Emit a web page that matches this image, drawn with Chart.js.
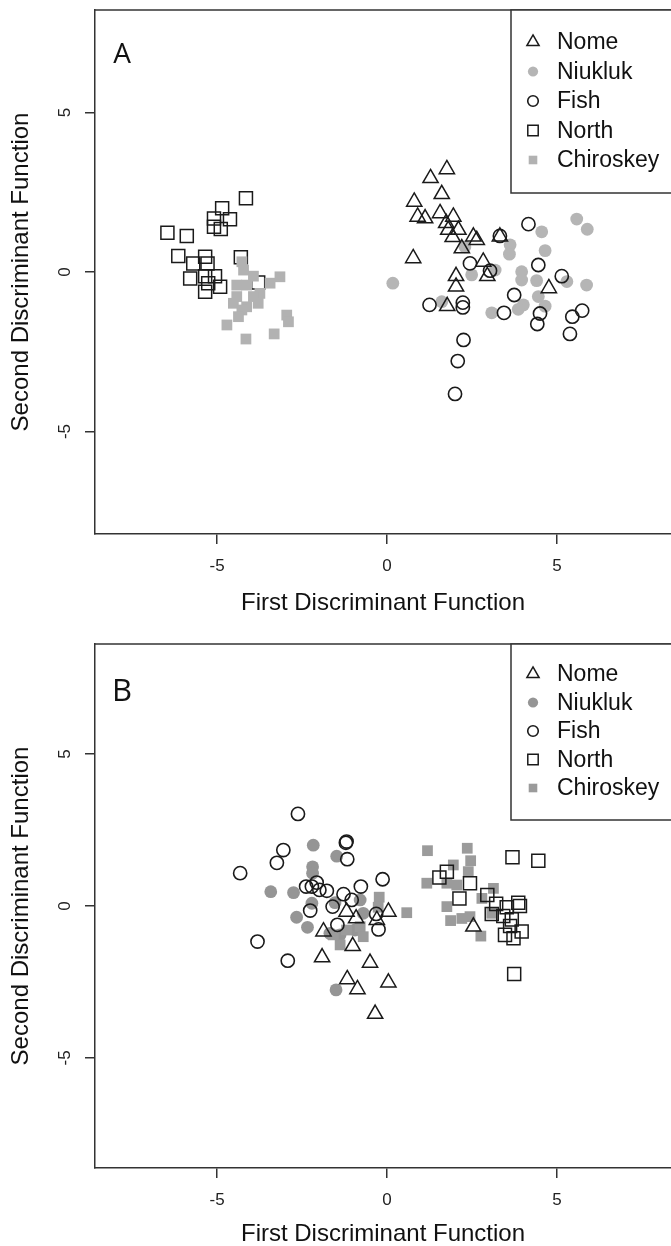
<!DOCTYPE html>
<html>
<head>
<meta charset="utf-8">
<script src="https://cdn.jsdelivr.net/npm/chart.js"></script>
<style>
	html, body { margin: 0; padding: 0; background: #fff; overflow: hidden; }
	canvas { display: block; }
</style>
</head>
<body>
<canvas id="panelA" width="671" height="640"></canvas>
<canvas id="panelB" width="671" height="606"></canvas>
<script>
// legend order, axis ticks and titles
const seriesNames = ['Nome', 'Niukluk', 'Fish', 'North', 'Chiroskey'];
const xTicks = [-5, 0, 5];
const yTicks = [-5, 0, 5];
const xTitle = 'First Discriminant Function';
const yTitle = 'Second Discriminant Function';

// panel A  [first, second]
const nomeA = [[1.76,3.22],[1.28,2.94],[1.61,2.44],[0.80,2.20],[0.90,1.73],[1.12,1.68],[1.56,1.84],[1.95,1.73],[1.74,1.53],[1.80,1.32],[2.10,1.32],[1.93,1.09],[2.54,1.11],[2.64,1.00],[2.20,0.74],[3.32,1.11],[0.77,0.43],[2.83,0.32],[2.03,-0.13],[2.95,-0.13],[2.03,-0.46],[4.76,-0.51],[1.77,-1.07]];
const niuklukA = [[5.58,1.66],[5.89,1.34],[4.55,1.26],[4.65,0.67],[3.62,0.85],[3.60,0.56],[2.29,0.79],[0.17,-0.35],[2.49,-0.09],[3.18,0.06],[3.96,0.01],[3.96,-0.25],[4.40,-0.27],[5.29,-0.30],[5.87,-0.41],[1.61,-0.93],[4.45,-0.77],[4.65,-1.07],[4.01,-1.03],[3.86,-1.17],[3.08,-1.28]];
const fishA = [[4.16,1.50],[3.32,1.13],[2.44,0.27],[4.45,0.22],[5.14,-0.13],[3.03,0.04],[3.74,-0.72],[1.25,-1.03],[2.23,-0.96],[2.23,-1.11],[3.44,-1.28],[4.50,-1.30],[4.42,-1.63],[5.74,-1.21],[5.45,-1.40],[5.38,-1.94],[2.25,-2.13],[2.08,-2.79],[2.00,-3.82]];
const northA = [[-4.15,2.31],[-4.85,2.00],[-4.62,1.65],[-5.09,1.68],[-5.09,1.42],[-4.89,1.35],[-6.46,1.23],[-5.89,1.13],[-6.14,0.50],[-5.70,0.27],[-5.35,0.48],[-5.28,0.27],[-4.30,0.46],[-5.79,-0.20],[-5.35,-0.13],[-5.06,-0.13],[-5.26,-0.35],[-4.91,-0.46],[-5.35,-0.62],[-3.79,-0.33]];
const chiroskeyA = [[-4.27,0.32],[-4.22,0.06],[-3.93,-0.13],[-3.15,-0.15],[-3.44,-0.35],[-4.42,-0.41],[-4.13,-0.41],[-3.74,-0.67],[-4.42,-0.77],[-3.93,-0.77],[-4.52,-0.98],[-4.13,-1.09],[-3.79,-0.98],[-4.27,-1.19],[-2.95,-1.35],[-2.90,-1.56],[-4.37,-1.40],[-4.71,-1.66],[-4.15,-2.10],[-3.32,-1.94]];

// panel B
const nomeB = [[0.04,-0.19],[-1.19,-0.19],[-0.91,-0.41],[-0.30,-0.46],[-1.87,-0.84],[-1.01,-1.32],[-1.91,-1.69],[-0.50,-1.87],[-1.17,-2.41],[0.04,-2.52],[-0.87,-2.74],[-0.35,-3.55],[2.54,-0.68]];
const niuklukB = [[-2.17,2.00],[-1.48,1.64],[-2.19,1.29],[-2.19,1.08],[-3.42,0.47],[-2.75,0.44],[-2.21,0.09],[-2.66,-0.37],[-2.34,-0.70],[-1.50,-2.76],[-0.79,0.20],[-1.53,0.11],[-1.38,-0.95],[-1.68,-0.90],[-0.94,-0.79],[-0.70,-0.24]];
const fishB = [[-2.62,3.03],[-1.21,2.08],[-1.19,2.12],[-1.17,1.54],[-3.05,1.84],[-3.24,1.42],[-4.32,1.08],[-0.13,0.88],[-2.38,0.64],[-2.07,0.77],[-1.77,0.50],[-1.99,0.53],[-2.21,0.64],[-1.28,0.39],[-0.77,0.64],[-1.04,0.20],[-2.26,-0.15],[-1.60,-0.02],[-0.32,-0.26],[-0.25,-0.77],[-1.46,-0.62],[-3.81,-1.17],[-2.92,-1.80]];
const northB = [[3.69,1.60],[4.45,1.49],[1.54,0.94],[1.76,1.13],[2.44,0.75],[2.13,0.25],[3.21,0.07],[3.52,-0.04],[3.86,0.11],[3.91,0.00],[3.08,-0.26],[3.42,-0.33],[3.67,-0.44],[3.62,-0.66],[3.96,-0.84],[3.47,-0.95],[3.72,-1.06],[3.74,-2.24],[2.95,0.36]];
const chiroskeyB = [[-0.23,0.29],[0.58,-0.22],[-0.79,-0.68],[-0.70,-1.01],[-1.38,-1.28],[-1.19,-0.79],[-1.58,-0.95],[-0.26,-0.04],[1.19,1.82],[2.36,1.90],[2.46,1.49],[1.95,1.35],[2.39,1.13],[1.17,0.75],[1.76,0.75],[2.05,0.69],[3.13,0.58],[2.79,0.25],[1.76,-0.02],[1.87,-0.48],[2.20,-0.41],[2.44,-0.35],[2.76,-0.99],[3.08,-0.24]];

const ink = '#1a1a1a';
const axisInk = '#333';
const sansFont = '"Liberation Sans", Arial, Helvetica, sans-serif';

const markerStyle = (gray1, gray2) => ({
	Nome: { style: 'triangle', radius: 8.8, fill: 'rgba(0,0,0,0)', stroke: ink, width: 1.5 },
	Niukluk: { style: 'circle', radius: 6.4, fill: gray1, stroke: gray1, width: 0 },
	Fish: { style: 'circle', radius: 6.6, fill: 'rgba(0,0,0,0)', stroke: ink, width: 1.6 },
	North: { style: 'rect', radius: 9.2, fill: 'rgba(0,0,0,0)', stroke: ink, width: 1.5 },
	Chiroskey: { style: 'rect', radius: 7.6, fill: gray2, stroke: gray2, width: 0 }
});

const panelDecor = {
	id: 'panelDecor',
	afterDraw(chart, args, opts) {
		const ctx = chart.ctx;
		const area = chart.chartArea;
		ctx.save();

		// top of the box
		ctx.strokeStyle = axisInk;
		ctx.lineWidth = 1.5;
		ctx.beginPath();
		ctx.moveTo(area.left, area.top);
		ctx.lineTo(chart.width + 5, area.top);
		ctx.stroke();

		// panel letter
		ctx.fillStyle = '#111';
		ctx.font = opts.letterSize + 'px "Open Sans", "DejaVu Sans", sans-serif';
		ctx.textAlign = 'center';
		ctx.textBaseline = 'middle';
		ctx.fillText(opts.letter, opts.letterX, area.top + opts.letterDy);

		// legend
		ctx.fillStyle = '#fff';
		ctx.fillRect(opts.legendLeft, area.top, 300, opts.legendH);
		ctx.strokeStyle = axisInk;
		ctx.lineWidth = 1.5;
		ctx.strokeRect(opts.legendLeft, area.top, 300, opts.legendH);

		ctx.font = '23px ' + sansFont;
		ctx.textAlign = 'left';
		seriesNames.forEach((name, i) => {
			const ds = chart.data.datasets.find(d => d.label === name);
			const y = area.top + opts.rowStart + i * opts.rowGap;
			ctx.fillStyle = ds.pointBackgroundColor === 'rgba(0,0,0,0)' ? '#fff' : ds.pointBackgroundColor;
			ctx.strokeStyle = ds.pointBorderColor;
			ctx.lineWidth = ds.pointBorderWidth;
			Chart.helpers.drawPoint(ctx, {
				pointStyle: ds.pointStyle,
				radius: ds.pointRadius * 0.8,
				borderWidth: ds.pointBorderWidth,
				rotation: 0
			}, opts.legendLeft + 22, y);
			ctx.fillStyle = '#111';
			ctx.fillText(name, opts.legendLeft + 46, y + 1);
		});
		ctx.restore();
	}
};

window.buildPanel = function(canvasId, series, styles, layout) {
	const datasets = layout.drawOrder.map(name => {
		const s = styles[name];
		return {
			label: name,
			data: series[name].map(p => ({ x: p[0], y: p[1] })),
			pointStyle: s.style,
			pointRadius: s.radius,
			pointHoverRadius: s.radius,
			pointBackgroundColor: s.fill,
			pointBorderColor: s.stroke,
			pointBorderWidth: s.width,
			showLine: false
		};
	});

	return new Chart(document.getElementById(canvasId), {
		type: 'scatter',
		data: { datasets: datasets },
		options: {
			responsive: false,
			animation: false,
			events: [],
			layout: { autoPadding: false, padding: { top: layout.top, right: 0, left: 0, bottom: 0 } },
			scales: {
				x: {
					type: 'linear',
					min: -8.59,
					max: 8.353,
					afterBuildTicks: scale => { scale.ticks = xTicks.map(v => ({ value: v })); },
					afterFit: scale => {
						scale.height = layout.xAxisH;
						scale.paddingLeft = 0;
						scale.paddingRight = 0;
					},
					border: { display: true, color: axisInk, width: 1.5 },
					grid: { display: true, drawOnChartArea: false, drawTicks: true, tickLength: 10, color: axisInk, lineWidth: 1.5 },
					ticks: { color: '#222', font: { family: sansFont, size: 17 }, padding: 12, maxRotation: 0 },
					title: {
						display: true,
						text: xTitle,
						color: '#111',
						font: { family: sansFont, size: 24, lineHeight: 1 },
						padding: { top: 0, bottom: layout.xTitlePad }
					}
				},
				y: {
					type: 'linear',
					min: -layout.yLim,
					max: layout.yLim,
					afterBuildTicks: scale => { scale.ticks = yTicks.map(v => ({ value: v })); },
					afterFit: scale => {
						scale.width = 95;
						scale.paddingTop = 0;
						scale.paddingBottom = 0;
					},
					border: { display: true, color: axisInk, width: 1.5 },
					grid: { display: true, drawOnChartArea: false, drawTicks: true, tickLength: 10, color: axisInk, lineWidth: 1.5 },
					ticks: { color: '#222', font: { family: sansFont, size: 17 }, padding: 12, minRotation: 90, maxRotation: 90, crossAlign: 'center' },
					title: {
						display: true,
						text: yTitle,
						color: '#111',
						font: { family: sansFont, size: 24, lineHeight: 1 },
						padding: { top: 9, bottom: 0 }
					}
				}
			},
			plugins: {
				legend: { display: false },
				tooltip: { enabled: false },
				panelDecor: {
					letter: layout.letter,
					letterSize: layout.letterSize,
					letterX: 122,
					letterDy: layout.letterDy,
					legendLeft: 511,
					legendH: layout.legendH,
					rowStart: layout.rowStart,
					rowGap: layout.rowGap
				}
			}
		},
		plugins: [panelDecor]
	});
};

window.buildPanel('panelA',
	{ Nome: nomeA, Niukluk: niuklukA, Fish: fishA, North: northA, Chiroskey: chiroskeyA },
	markerStyle('#b5b5b5', '#b2b2b2'),
	{ top: 10, xAxisH: 106, xTitlePad: 25, yLim: 8.21, letter: 'A', letterSize: 28, letterDy: 45,
	  legendH: 183, rowStart: 32, rowGap: 29.5,
	  drawOrder: ['Chiroskey', 'Nome', 'Fish', 'North', 'Niukluk'] });

window.buildPanel('panelB',
	{ Nome: nomeB, Niukluk: niuklukB, Fish: fishB, North: northB, Chiroskey: chiroskeyB },
	markerStyle('#959595', '#9b9b9b'),
	{ top: 4, xAxisH: 78, xTitlePad: 0, yLim: 8.62, letter: 'B', letterSize: 31, letterDy: 48,
	  legendH: 176, rowStart: 30, rowGap: 28.5,
	  drawOrder: ['North', 'Fish', 'Nome', 'Chiroskey', 'Niukluk'] });
</script>
</body>
</html>
